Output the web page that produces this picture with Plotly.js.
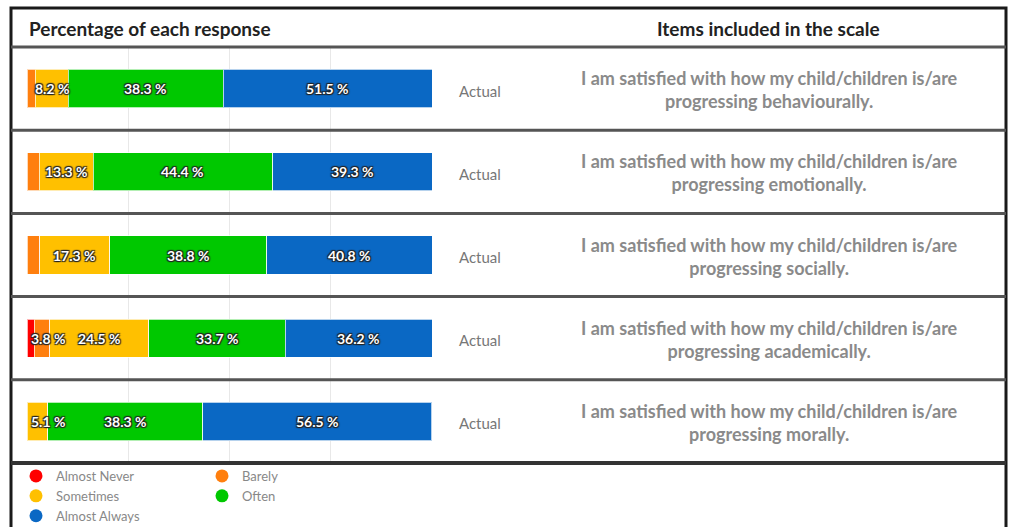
<!DOCTYPE html>
<html>
<head>
<meta charset="utf-8">
<script src="https://cdn.plot.ly/plotly-3.0.1.min.js"></script>
<style>html,body{margin:0;padding:0;background:#fff;}#chart{width:1011px;height:527px;}</style>
</head>
<body>
<div id="chart"></div>
<script>
// ---- data ----
var items = ["behaviourally", "emotionally", "socially", "academically", "morally"];
var itemTexts = [
  "I am satisfied with how my child/children is/are<br>progressing behaviourally.",
  "I am satisfied with how my child/children is/are<br>progressing emotionally.",
  "I am satisfied with how my child/children is/are<br>progressing socially.",
  "I am satisfied with how my child/children is/are<br>progressing academically.",
  "I am satisfied with how my child/children is/are<br>progressing morally."
];
var rowLabel = "Actual";
var responses = ["Almost Never", "Barely", "Sometimes", "Often", "Almost Always"];
var almostNever  = [0,    0,    0,    1.8,  0];
var barely       = [2.0,  3.0,  3.1,  3.8,  0];
var sometimes    = [8.2,  13.3, 17.3, 24.5, 5.1];
var often        = [38.3, 44.4, 38.8, 33.7, 38.3];
var almostAlways = [51.5, 39.3, 40.8, 36.2, 56.5];
var xTicks = [0, 25, 50, 75, 100];
var leftHeader = "Percentage of each response";
var rightHeader = "Items included in the scale";

// ---- style ----
var colors = ["#ff0000", "#ff7f0e", "#ffc000", "#00c800", "#0a68c4"];
var series = [almostNever, barely, sometimes, often, almostAlways];
var FONT = "Lato, 'Open Sans', sans-serif";
var W = 1011, H = 527, L = 27, R = 579, T = 47, B = 64;
var pw = W - L - R, ph = H - T - B;
function px2x(p) { return (p - L) / pw; }
function py2y(p) { return 1 - (p - T) / ph; }
var LABEL_MIN_VALUE = 3.5;   // smaller segments carry no label
var LABEL_MIN_CENTER = 5.3;  // keep labels inside the plot's left edge
var labelFont = { family: FONT, size: 14, color: "#ffffff", weight: "bold",
  shadow: "1px 1px 1px #222, -1px -1px 1px #222, 1px -1px 1px #222, -1px 1px 1px #222" };

var traces = [];
series.forEach(function (vals, i) {
  traces.push({
    type: "bar", orientation: "h",
    name: responses[i], y: items, x: vals,
    marker: { color: colors[i], line: { color: "rgba(255,255,255,0.7)", width: 1 } },
    width: 0.46, showlegend: false, hoverinfo: "skip"
  });
});
// legend entries (circle symbols)
responses.forEach(function (r, i) {
  traces.push({
    type: "scatter", mode: "markers", name: r, x: [null], y: [null],
    marker: { color: colors[i], size: 13, symbol: "circle" },
    showlegend: true, hoverinfo: "skip"
  });
});

var annotations = [
  { text: "<b>" + leftHeader + "</b>", xref: "paper", yref: "paper", x: px2x(27), y: py2y(28),
    xanchor: "left", yanchor: "middle", showarrow: false, font: { family: FONT, size: 19, color: "#222" } },
  { text: "<b>" + rightHeader + "</b>", xref: "paper", yref: "paper", x: px2x(768), y: py2y(28),
    xanchor: "center", yanchor: "middle", showarrow: false, font: { family: FONT, size: 19, color: "#222" } }
];
// segment value labels, placed from the stacked data
items.forEach(function (it, r) {
  var start = 0;
  series.forEach(function (vals) {
    var v = vals[r];
    if (v >= LABEL_MIN_VALUE) {
      annotations.push({ text: v.toFixed(1) + " %", xref: "x", yref: "y",
        x: Math.max(start + v / 2, LABEL_MIN_CENTER), y: it, xanchor: "center", yanchor: "middle",
        showarrow: false, font: labelFont });
    }
    start += v;
  });
});
items.forEach(function (it, i) {
  annotations.push({ text: rowLabel, xref: "paper", yref: "y", x: px2x(457), y: it, yshift: -2,
    xanchor: "left", yanchor: "middle", showarrow: false, font: { family: FONT, size: 15, color: "#777" } });
  annotations.push({ text: "<b>" + itemTexts[i] + "</b>", xref: "paper", yref: "y", x: px2x(769), y: it, yshift: -1,
    xanchor: "center", yanchor: "middle", showarrow: false, align: "center",
    font: { family: FONT, size: 18, color: "#8a8a8a" } });
});

var shapes = [];
shapes.push({ type: "rect", xref: "paper", yref: "paper", x0: px2x(11), x1: px2x(1006), y0: py2y(8), y1: py2y(540),
  line: { color: "#1a1a1a", width: 3 }, fillcolor: "rgba(0,0,0,0)", layer: "above" });
shapes.push({ type: "line", xref: "paper", yref: "paper", x0: px2x(11), x1: px2x(1006), y0: 1, y1: 1,
  line: { color: "#555", width: 3 }, layer: "above" });
for (var k = 0; k < items.length - 1; k++) {
  shapes.push({ type: "line", xref: "paper", yref: "y", x0: px2x(11), x1: px2x(1006), y0: k + 0.5, y1: k + 0.5,
    line: { color: "#555", width: 3 }, layer: "above" });
}
shapes.push({ type: "line", xref: "paper", yref: "paper", x0: px2x(11), x1: px2x(1006), y0: 0, y1: 0,
  line: { color: "#333", width: 4 }, layer: "above" });

var layout = {
  width: W, height: H,
  margin: { l: L, r: R, t: T, b: B, pad: 0, autoexpand: false },
  paper_bgcolor: "#fff", plot_bgcolor: "#fff",
  barmode: "stack",
  font: { family: FONT },
  xaxis: { range: [0, 100], tickvals: xTicks, showticklabels: false, showgrid: true,
    gridcolor: "#e8e8e8", gridwidth: 1, zeroline: false, showline: false, fixedrange: true, automargin: false },
  yaxis: { type: "category", categoryorder: "array", categoryarray: items, range: [4.5, -0.5],
    showticklabels: false, showgrid: false, zeroline: false, showline: false, fixedrange: true, automargin: false },
  showlegend: true,
  legend: { orientation: "h", x: px2x(16), y: py2y(461), xanchor: "left", yanchor: "top",
    entrywidth: 141, entrywidthmode: "pixels", traceorder: "normal", tracegroupgap: 0,
    font: { family: FONT, size: 13, color: "#888" }, bgcolor: "rgba(0,0,0,0)", itemclick: false },
  annotations: annotations,
  shapes: shapes
};

Plotly.newPlot("chart", traces, layout, { displayModeBar: false, staticPlot: true });
</script>
</body>
</html>
